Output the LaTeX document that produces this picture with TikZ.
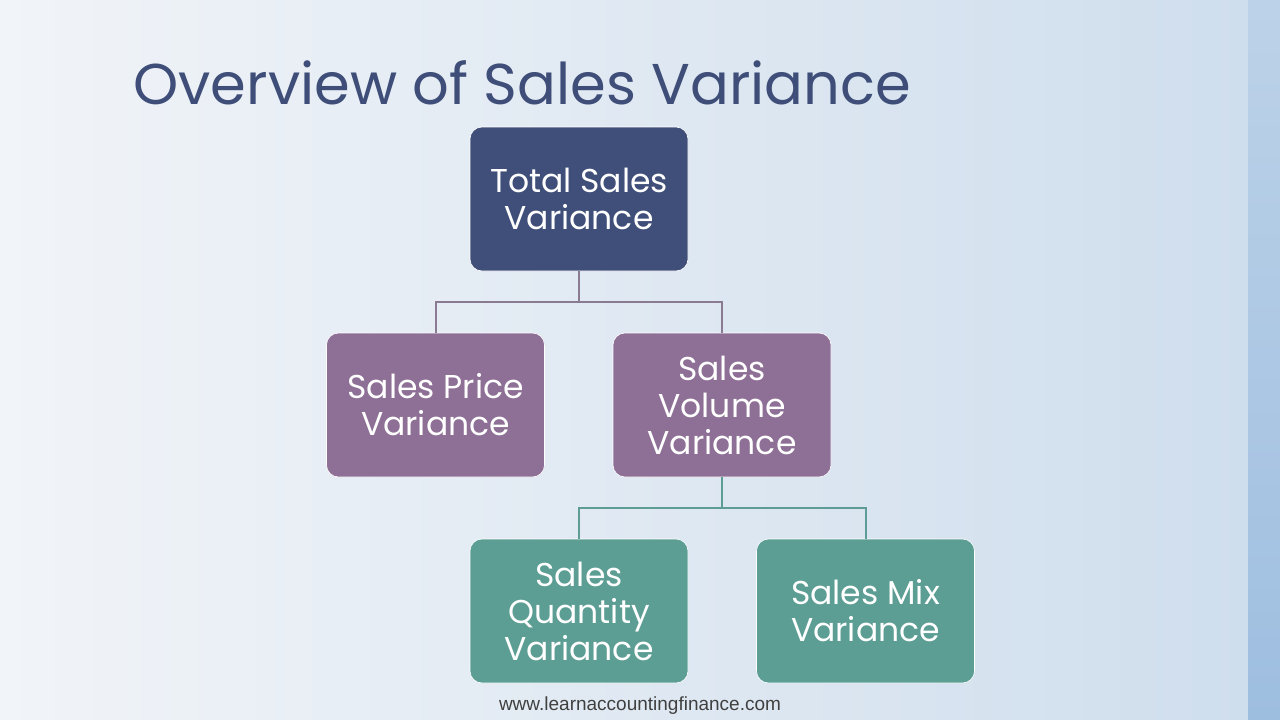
\documentclass[tikz,border=0pt]{standalone}
\usepackage{fontspec}
\setmainfont{Poppins}
\newfontfamily\urlfont{Liberation Sans}
\usetikzlibrary{positioning}

\definecolor{titleblue}{HTML}{3F4E78}
\definecolor{topbox}{HTML}{404F79}
\definecolor{midbox}{HTML}{8E6F95}
\definecolor{lowbox}{HTML}{5C9E94}
\definecolor{midline}{HTML}{8A7B92}
\definecolor{lowline}{HTML}{5E9C96}
\definecolor{bgleft}{HTML}{F1F4F8}
\definecolor{bgright}{HTML}{CFDEED}
\definecolor{edgetop}{HTML}{BCD2E8}
\definecolor{edgebottom}{HTML}{9EBEE0}

\tikzset{
  varbox/.style={rounded corners=12pt, minimum width=218pt, minimum height=144pt,
    align=center, text=white, draw=white!70, line width=0.6pt,
    font=\fontsize{33}{37}\selectfont},
  midlink/.style={draw=midline, line width=2pt},
  lowlink/.style={draw=lowline, line width=2pt}
}

\begin{document}
\begin{tikzpicture}[x=1pt,y=-1pt]
\useasboundingbox (0,0) rectangle (1280,720);

% background
\shade[left color=bgleft, right color=bgright] (0,0) rectangle (1248,720);
\shade[top color=edgetop, bottom color=edgebottom] (1248,0) rectangle (1280,720);

\node[anchor=base west, text=titleblue, font=\fontsize{57.5}{57.5}\selectfont] (title) at (130,104) {Overview of Sales Variance};

\node[varbox, fill=topbox] (total) at (579,199) {Total Sales\\Variance};
\node[varbox, fill=midbox] (price) at (435.5,405) {Sales Price\\Variance};
\node[varbox, fill=midbox] (volume) at (722,405) {Sales\\Volume\\Variance};
\node[varbox, fill=lowbox] (quantity) at (579,611) {Sales\\Quantity\\Variance};
\node[varbox, fill=lowbox] (mix) at (865.5,611) {Sales Mix\\Variance};

\draw[midlink] (total.south) -- ++(0,31) -| (price.north);
\draw[midlink] (total.south) -- ++(0,31) -| (volume.north);
\draw[lowlink] (volume.south) -- ++(0,31) -| (quantity.north);
\draw[lowlink] (volume.south) -- ++(0,31) -| (mix.north);

\node[anchor=base, text=black!75, font=\urlfont\fontsize{19}{19}\selectfont] (site) at (640,710) {www.learnaccountingfinance.com};
\end{tikzpicture}
\end{document}
